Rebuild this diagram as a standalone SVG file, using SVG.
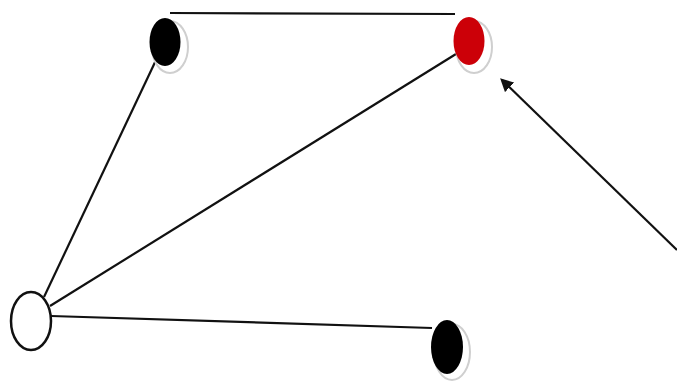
<svg xmlns="http://www.w3.org/2000/svg" width="677" height="383" viewBox="0 0 677 383">
<defs>
<style>
.edge{stroke:#111;stroke-width:2.2;fill:none}
.halo{fill:#fff;stroke:#cfcfcf;stroke-width:2}
</style>
<marker id="ah" viewBox="0 0 10 10" refX="8" refY="5" markerWidth="6" markerHeight="6" orient="auto-start-reverse" markerUnits="strokeWidth">
<path d="M0,0 L10,5 L0,10 z" fill="#111"/>
</marker>
</defs>
<rect width="677" height="383" fill="#fff"/>
<g id="connectors">
<line class="edge" x1="170" y1="13" x2="455" y2="14"/>
<line class="edge" x1="157" y1="58" x2="44" y2="297"/>
<line class="edge" x1="50" y1="306" x2="456" y2="54"/>
<line class="edge" x1="51" y1="316" x2="432" y2="328"/>
<line class="edge" x1="677" y1="250" x2="502" y2="80" marker-end="url(#ah)" stroke-width="3"/>
</g>
<g id="n-topblack">
<ellipse class="halo" cx="170" cy="47" rx="18" ry="26"/>
<ellipse cx="165" cy="42" rx="15.5" ry="24" fill="#000"/>
</g>
<g id="n-red">
<ellipse class="halo" cx="474" cy="47" rx="18" ry="26"/>
<ellipse cx="469" cy="41" rx="15.5" ry="24" fill="#cc0008"/>
</g>
<g id="n-white">
<ellipse cx="31" cy="321" rx="20" ry="29" fill="#fff" stroke="#111" stroke-width="2.5"/>
</g>
<g id="n-bottomblack">
<ellipse class="halo" cx="452" cy="352" rx="18" ry="28"/>
<ellipse cx="447" cy="347" rx="16" ry="27" fill="#000"/>
</g>
</svg>
